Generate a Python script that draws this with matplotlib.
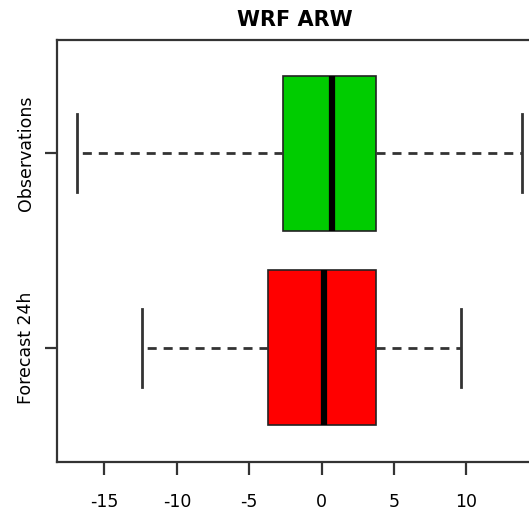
import matplotlib
matplotlib.use("Agg")
import matplotlib.pyplot as plt

# Box statistics (x units)
categories = ["Forecast 24h", "Observations"]
whisker_low = [-12.4, -16.9]
q1 = [-3.72, -2.65]
median = [0.16, 0.71]
q3 = [3.74, 3.74]
whisker_high = [9.65, 13.8]
colors = ["#ff0000", "#00cc00"]
xticks = [-15, -10, -5, 0, 5, 10]

plt.rcParams['font.family'] = ['DejaVu Sans']

fig = plt.figure(figsize=(5.29, 5.13), dpi=100)
ax = fig.add_axes([57 / 529, 51 / 513, (532 - 57) / 529, 422 / 513])

stats = []
for i, name in enumerate(categories):
    stats.append({
        'label': name,
        'whislo': whisker_low[i],
        'q1': q1[i],
        'med': median[i],
        'q3': q3[i],
        'whishi': whisker_high[i],
    })

edge = '#333333'
bp = ax.bxp(stats, positions=[1, 2], widths=0.8, capwidths=0.4,
            orientation='horizontal', showfliers=False, patch_artist=True,
            boxprops=dict(edgecolor='#222222', linewidth=1.2),
            whiskerprops=dict(color=edge, linewidth=2, linestyle=(0, (3.25, 2.5))),
            capprops=dict(color=edge, linewidth=2),
            medianprops=dict(color='black', linewidth=4.5, solid_capstyle='butt'))
for patch, c in zip(bp['boxes'], colors):
    patch.set_facecolor(c)

ax.set_xlim(-18.28, -18.28 + (532 - 57) / 14.48)
ax.set_ylim(0.412, 2.583)
ax.set_xticks(xticks)
ax.set_xticklabels([str(t) for t in xticks], fontsize=12.5)
ax.set_yticks([1, 2])
ax.set_yticklabels(categories, rotation=90, va='center', fontsize=12.5)

for s in ax.spines.values():
    s.set_color(edge)
    s.set_linewidth(1.6)
ax.tick_params(axis='both', length=9, width=1.6, color=edge)
ax.tick_params(axis='x', pad=13)
ax.tick_params(axis='y', pad=7)

ax.set_title('WRF ARW', fontsize=15, fontweight='bold', pad=10)

fig.savefig('out.png', dpi=100)
